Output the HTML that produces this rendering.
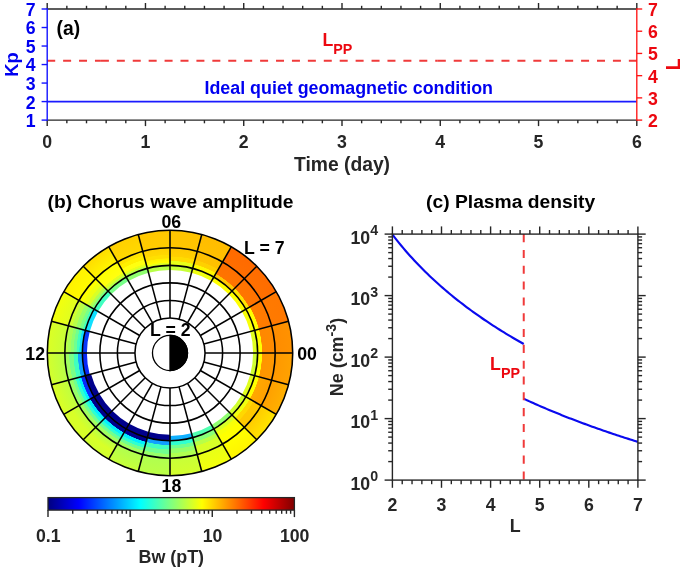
<!DOCTYPE html>
<html><head><meta charset="utf-8"><title>Figure</title>
<style>
html,body{margin:0;padding:0;background:#fff;}
svg{display:block;will-change:transform;}
text{font-family:"Liberation Sans",sans-serif;font-weight:bold;}
</style></head>
<body>
<svg width="685" height="570" viewBox="0 0 685 570">
<rect width="685" height="570" fill="#fff"/>
<g id="panel-a">
<line x1="47.20" y1="101.58" x2="636.80" y2="101.58" stroke="#1a1aff" stroke-width="1.7" />
<path d="M47.20,60.77 H100.90" stroke="#f03a3a" stroke-width="2" stroke-dasharray="8 7.92" fill="none"/>
<path d="M100.90,60.77 H437.80" stroke="#f03a3a" stroke-width="2" stroke-dasharray="8 7.92" fill="none"/>
<path d="M437.80,60.77 H636.80" stroke="#f03a3a" stroke-width="2" stroke-dasharray="8 7.92" fill="none"/>
<line x1="47.20" y1="9.00" x2="636.80" y2="9.00" stroke="#262626" stroke-width="1.4" />
<line x1="47.20" y1="120.10" x2="636.80" y2="120.10" stroke="#262626" stroke-width="1.4" />
<line x1="47.20" y1="9.00" x2="47.20" y2="3.00" stroke="#262626" stroke-width="1.4" />
<line x1="47.20" y1="120.10" x2="47.20" y2="126.10" stroke="#262626" stroke-width="1.4" />
<line x1="66.85" y1="9.00" x2="66.85" y2="5.80" stroke="#262626" stroke-width="1.4" />
<line x1="66.85" y1="120.10" x2="66.85" y2="123.30" stroke="#262626" stroke-width="1.4" />
<line x1="86.51" y1="9.00" x2="86.51" y2="5.80" stroke="#262626" stroke-width="1.4" />
<line x1="86.51" y1="120.10" x2="86.51" y2="123.30" stroke="#262626" stroke-width="1.4" />
<line x1="106.16" y1="9.00" x2="106.16" y2="5.80" stroke="#262626" stroke-width="1.4" />
<line x1="106.16" y1="120.10" x2="106.16" y2="123.30" stroke="#262626" stroke-width="1.4" />
<line x1="125.81" y1="9.00" x2="125.81" y2="5.80" stroke="#262626" stroke-width="1.4" />
<line x1="125.81" y1="120.10" x2="125.81" y2="123.30" stroke="#262626" stroke-width="1.4" />
<line x1="145.47" y1="9.00" x2="145.47" y2="3.00" stroke="#262626" stroke-width="1.4" />
<line x1="145.47" y1="120.10" x2="145.47" y2="126.10" stroke="#262626" stroke-width="1.4" />
<line x1="165.12" y1="9.00" x2="165.12" y2="5.80" stroke="#262626" stroke-width="1.4" />
<line x1="165.12" y1="120.10" x2="165.12" y2="123.30" stroke="#262626" stroke-width="1.4" />
<line x1="184.77" y1="9.00" x2="184.77" y2="5.80" stroke="#262626" stroke-width="1.4" />
<line x1="184.77" y1="120.10" x2="184.77" y2="123.30" stroke="#262626" stroke-width="1.4" />
<line x1="204.43" y1="9.00" x2="204.43" y2="5.80" stroke="#262626" stroke-width="1.4" />
<line x1="204.43" y1="120.10" x2="204.43" y2="123.30" stroke="#262626" stroke-width="1.4" />
<line x1="224.08" y1="9.00" x2="224.08" y2="5.80" stroke="#262626" stroke-width="1.4" />
<line x1="224.08" y1="120.10" x2="224.08" y2="123.30" stroke="#262626" stroke-width="1.4" />
<line x1="243.73" y1="9.00" x2="243.73" y2="3.00" stroke="#262626" stroke-width="1.4" />
<line x1="243.73" y1="120.10" x2="243.73" y2="126.10" stroke="#262626" stroke-width="1.4" />
<line x1="263.39" y1="9.00" x2="263.39" y2="5.80" stroke="#262626" stroke-width="1.4" />
<line x1="263.39" y1="120.10" x2="263.39" y2="123.30" stroke="#262626" stroke-width="1.4" />
<line x1="283.04" y1="9.00" x2="283.04" y2="5.80" stroke="#262626" stroke-width="1.4" />
<line x1="283.04" y1="120.10" x2="283.04" y2="123.30" stroke="#262626" stroke-width="1.4" />
<line x1="302.69" y1="9.00" x2="302.69" y2="5.80" stroke="#262626" stroke-width="1.4" />
<line x1="302.69" y1="120.10" x2="302.69" y2="123.30" stroke="#262626" stroke-width="1.4" />
<line x1="322.35" y1="9.00" x2="322.35" y2="5.80" stroke="#262626" stroke-width="1.4" />
<line x1="322.35" y1="120.10" x2="322.35" y2="123.30" stroke="#262626" stroke-width="1.4" />
<line x1="342.00" y1="9.00" x2="342.00" y2="3.00" stroke="#262626" stroke-width="1.4" />
<line x1="342.00" y1="120.10" x2="342.00" y2="126.10" stroke="#262626" stroke-width="1.4" />
<line x1="361.65" y1="9.00" x2="361.65" y2="5.80" stroke="#262626" stroke-width="1.4" />
<line x1="361.65" y1="120.10" x2="361.65" y2="123.30" stroke="#262626" stroke-width="1.4" />
<line x1="381.31" y1="9.00" x2="381.31" y2="5.80" stroke="#262626" stroke-width="1.4" />
<line x1="381.31" y1="120.10" x2="381.31" y2="123.30" stroke="#262626" stroke-width="1.4" />
<line x1="400.96" y1="9.00" x2="400.96" y2="5.80" stroke="#262626" stroke-width="1.4" />
<line x1="400.96" y1="120.10" x2="400.96" y2="123.30" stroke="#262626" stroke-width="1.4" />
<line x1="420.61" y1="9.00" x2="420.61" y2="5.80" stroke="#262626" stroke-width="1.4" />
<line x1="420.61" y1="120.10" x2="420.61" y2="123.30" stroke="#262626" stroke-width="1.4" />
<line x1="440.27" y1="9.00" x2="440.27" y2="3.00" stroke="#262626" stroke-width="1.4" />
<line x1="440.27" y1="120.10" x2="440.27" y2="126.10" stroke="#262626" stroke-width="1.4" />
<line x1="459.92" y1="9.00" x2="459.92" y2="5.80" stroke="#262626" stroke-width="1.4" />
<line x1="459.92" y1="120.10" x2="459.92" y2="123.30" stroke="#262626" stroke-width="1.4" />
<line x1="479.57" y1="9.00" x2="479.57" y2="5.80" stroke="#262626" stroke-width="1.4" />
<line x1="479.57" y1="120.10" x2="479.57" y2="123.30" stroke="#262626" stroke-width="1.4" />
<line x1="499.23" y1="9.00" x2="499.23" y2="5.80" stroke="#262626" stroke-width="1.4" />
<line x1="499.23" y1="120.10" x2="499.23" y2="123.30" stroke="#262626" stroke-width="1.4" />
<line x1="518.88" y1="9.00" x2="518.88" y2="5.80" stroke="#262626" stroke-width="1.4" />
<line x1="518.88" y1="120.10" x2="518.88" y2="123.30" stroke="#262626" stroke-width="1.4" />
<line x1="538.53" y1="9.00" x2="538.53" y2="3.00" stroke="#262626" stroke-width="1.4" />
<line x1="538.53" y1="120.10" x2="538.53" y2="126.10" stroke="#262626" stroke-width="1.4" />
<line x1="558.19" y1="9.00" x2="558.19" y2="5.80" stroke="#262626" stroke-width="1.4" />
<line x1="558.19" y1="120.10" x2="558.19" y2="123.30" stroke="#262626" stroke-width="1.4" />
<line x1="577.84" y1="9.00" x2="577.84" y2="5.80" stroke="#262626" stroke-width="1.4" />
<line x1="577.84" y1="120.10" x2="577.84" y2="123.30" stroke="#262626" stroke-width="1.4" />
<line x1="597.49" y1="9.00" x2="597.49" y2="5.80" stroke="#262626" stroke-width="1.4" />
<line x1="597.49" y1="120.10" x2="597.49" y2="123.30" stroke="#262626" stroke-width="1.4" />
<line x1="617.15" y1="9.00" x2="617.15" y2="5.80" stroke="#262626" stroke-width="1.4" />
<line x1="617.15" y1="120.10" x2="617.15" y2="123.30" stroke="#262626" stroke-width="1.4" />
<line x1="636.80" y1="9.00" x2="636.80" y2="3.00" stroke="#262626" stroke-width="1.4" />
<line x1="636.80" y1="120.10" x2="636.80" y2="126.10" stroke="#262626" stroke-width="1.4" />
<line x1="47.20" y1="8.35" x2="47.20" y2="120.75" stroke="#1414ff" stroke-width="1.4" />
<line x1="47.20" y1="120.10" x2="41.60" y2="120.10" stroke="#1414ff" stroke-width="1.4" />
<text x="35.50" y="127.04" font-size="17.7" fill="#0000f0" text-anchor="end" >1</text>
<line x1="47.20" y1="101.58" x2="41.60" y2="101.58" stroke="#1414ff" stroke-width="1.4" />
<text x="35.50" y="108.52" font-size="17.7" fill="#0000f0" text-anchor="end" >2</text>
<line x1="47.20" y1="83.07" x2="41.60" y2="83.07" stroke="#1414ff" stroke-width="1.4" />
<text x="35.50" y="90.00" font-size="17.7" fill="#0000f0" text-anchor="end" >3</text>
<line x1="47.20" y1="64.55" x2="41.60" y2="64.55" stroke="#1414ff" stroke-width="1.4" />
<text x="35.50" y="71.49" font-size="17.7" fill="#0000f0" text-anchor="end" >4</text>
<line x1="47.20" y1="46.03" x2="41.60" y2="46.03" stroke="#1414ff" stroke-width="1.4" />
<text x="35.50" y="52.97" font-size="17.7" fill="#0000f0" text-anchor="end" >5</text>
<line x1="47.20" y1="27.52" x2="41.60" y2="27.52" stroke="#1414ff" stroke-width="1.4" />
<text x="35.50" y="34.45" font-size="17.7" fill="#0000f0" text-anchor="end" >6</text>
<line x1="47.20" y1="9.00" x2="41.60" y2="9.00" stroke="#1414ff" stroke-width="1.4" />
<text x="35.50" y="15.94" font-size="17.7" fill="#0000f0" text-anchor="end" >7</text>
<line x1="636.80" y1="8.35" x2="636.80" y2="120.75" stroke="#ff1414" stroke-width="1.35" />
<line x1="636.80" y1="120.10" x2="642.20" y2="120.10" stroke="#ff1414" stroke-width="1.35" />
<text x="648.10" y="127.04" font-size="17.7" fill="#ec0810" text-anchor="start" >2</text>
<line x1="636.80" y1="97.88" x2="642.20" y2="97.88" stroke="#ff1414" stroke-width="1.35" />
<text x="648.10" y="104.82" font-size="17.7" fill="#ec0810" text-anchor="start" >3</text>
<line x1="636.80" y1="75.66" x2="642.20" y2="75.66" stroke="#ff1414" stroke-width="1.35" />
<text x="648.10" y="82.60" font-size="17.7" fill="#ec0810" text-anchor="start" >4</text>
<line x1="636.80" y1="53.44" x2="642.20" y2="53.44" stroke="#ff1414" stroke-width="1.35" />
<text x="648.10" y="60.38" font-size="17.7" fill="#ec0810" text-anchor="start" >5</text>
<line x1="636.80" y1="31.22" x2="642.20" y2="31.22" stroke="#ff1414" stroke-width="1.35" />
<text x="648.10" y="38.16" font-size="17.7" fill="#ec0810" text-anchor="start" >6</text>
<line x1="636.80" y1="9.00" x2="642.20" y2="9.00" stroke="#ff1414" stroke-width="1.35" />
<text x="648.10" y="15.94" font-size="17.7" fill="#ec0810" text-anchor="start" >7</text>
<text x="47.20" y="148.20" font-size="17.7" fill="#262626" text-anchor="middle" >0</text>
<text x="145.47" y="148.20" font-size="17.7" fill="#262626" text-anchor="middle" >1</text>
<text x="243.73" y="148.20" font-size="17.7" fill="#262626" text-anchor="middle" >2</text>
<text x="342.00" y="148.20" font-size="17.7" fill="#262626" text-anchor="middle" >3</text>
<text x="440.27" y="148.20" font-size="17.7" fill="#262626" text-anchor="middle" >4</text>
<text x="538.53" y="148.20" font-size="17.7" fill="#262626" text-anchor="middle" >5</text>
<text x="636.80" y="148.20" font-size="17.7" fill="#262626" text-anchor="middle" >6</text>
<text x="342.00" y="170.60" font-size="19.3" fill="#262626" text-anchor="middle" >Time (day)</text>
<text transform="translate(18.3,64.6) rotate(-90)" font-size="18.4" fill="#0000f0" text-anchor="middle" font-family="Liberation Sans, sans-serif" font-weight="bold">Kp</text>
<text transform="translate(680.1,64.4) rotate(-90)" font-size="19.4" fill="#ec0810" text-anchor="middle" font-family="Liberation Sans, sans-serif" font-weight="bold">L</text>
<text x="56.60" y="34.70" font-size="19.3" fill="#000" text-anchor="start" >(a)</text>
<text x="204.50" y="94.00" font-size="17.85" fill="#0000f0" text-anchor="start" >Ideal quiet geomagnetic condition</text>
<text x="322.5" y="45.7" font-size="17.7" fill="#ec0810" font-family="Liberation Sans, sans-serif" font-weight="bold">L<tspan dy="8.4" dx="0" font-size="14.3">PP</tspan></text>
</g>
<g id="panel-b">
<text x="170.50" y="208.10" font-size="19.25" fill="#000" text-anchor="middle" >(b) Chorus wave amplitude</text>
<defs>
<radialGradient id="g0" gradientUnits="userSpaceOnUse" cx="170.0" cy="353.0" r="122.71">
<stop offset="0.6571" stop-color="#e0ff20"/>
<stop offset="0.7126" stop-color="#e0ff20"/>
<stop offset="0.7160" stop-color="#ffff00"/>
<stop offset="0.7483" stop-color="#ffff00"/>
<stop offset="0.7517" stop-color="#ff8800"/>
<stop offset="0.8554" stop-color="#ff8a00"/>
<stop offset="0.8589" stop-color="#ff8c00"/>
<stop offset="1.0000" stop-color="#ff9200"/>
</radialGradient>
<radialGradient id="g1" gradientUnits="userSpaceOnUse" cx="170.0" cy="353.0" r="122.71">
<stop offset="0.6571" stop-color="#f8ff08"/>
<stop offset="0.7126" stop-color="#f8ff08"/>
<stop offset="0.7160" stop-color="#ffff00"/>
<stop offset="0.7483" stop-color="#ffff00"/>
<stop offset="0.7517" stop-color="#ff7c00"/>
<stop offset="0.8554" stop-color="#ff7a00"/>
<stop offset="0.8589" stop-color="#ff7a00"/>
<stop offset="1.0000" stop-color="#ff7800"/>
</radialGradient>
<radialGradient id="g2" gradientUnits="userSpaceOnUse" cx="170.0" cy="353.0" r="122.71">
<stop offset="0.6571" stop-color="#ffff00"/>
<stop offset="0.7126" stop-color="#ffff00"/>
<stop offset="0.7160" stop-color="#ffe400"/>
<stop offset="0.7440" stop-color="#ffe400"/>
<stop offset="0.7474" stop-color="#ff7600"/>
<stop offset="0.8554" stop-color="#ff7200"/>
<stop offset="0.8589" stop-color="#ff7000"/>
<stop offset="1.0000" stop-color="#ff6c00"/>
</radialGradient>
<radialGradient id="g3" gradientUnits="userSpaceOnUse" cx="170.0" cy="353.0" r="122.71">
<stop offset="0.6571" stop-color="#ffff00"/>
<stop offset="0.7126" stop-color="#ffff00"/>
<stop offset="0.7160" stop-color="#ffc800"/>
<stop offset="0.7440" stop-color="#ffc800"/>
<stop offset="0.7474" stop-color="#ff7400"/>
<stop offset="0.8554" stop-color="#ff7000"/>
<stop offset="0.8589" stop-color="#ff6e00"/>
<stop offset="1.0000" stop-color="#ff6a00"/>
</radialGradient>
<radialGradient id="g4" gradientUnits="userSpaceOnUse" cx="170.0" cy="353.0" r="122.71">
<stop offset="0.6571" stop-color="#f0ff10"/>
<stop offset="0.7126" stop-color="#f0ff10"/>
<stop offset="0.7160" stop-color="#fff800"/>
<stop offset="0.7483" stop-color="#fff800"/>
<stop offset="0.7517" stop-color="#ffd000"/>
<stop offset="0.7840" stop-color="#ffd000"/>
<stop offset="0.7874" stop-color="#ffc200"/>
<stop offset="0.8554" stop-color="#ffc000"/>
<stop offset="0.8589" stop-color="#ffc000"/>
<stop offset="1.0000" stop-color="#ffbc00"/>
</radialGradient>
<radialGradient id="g5" gradientUnits="userSpaceOnUse" cx="170.0" cy="353.0" r="122.71">
<stop offset="0.6571" stop-color="#c8ff38"/>
<stop offset="0.7126" stop-color="#c8ff38"/>
<stop offset="0.7160" stop-color="#e8ff18"/>
<stop offset="0.7483" stop-color="#e8ff18"/>
<stop offset="0.7517" stop-color="#ffdc00"/>
<stop offset="0.7840" stop-color="#ffdc00"/>
<stop offset="0.7874" stop-color="#ffd000"/>
<stop offset="0.8554" stop-color="#ffc800"/>
<stop offset="0.8589" stop-color="#ffc600"/>
<stop offset="1.0000" stop-color="#ffc400"/>
</radialGradient>
<radialGradient id="g6" gradientUnits="userSpaceOnUse" cx="170.0" cy="353.0" r="122.71">
<stop offset="0.6571" stop-color="#b8ff48"/>
<stop offset="0.7126" stop-color="#b8ff48"/>
<stop offset="0.7160" stop-color="#e0ff20"/>
<stop offset="0.7340" stop-color="#e0ff20"/>
<stop offset="0.7374" stop-color="#ffff00"/>
<stop offset="0.7697" stop-color="#fff000"/>
<stop offset="0.7731" stop-color="#ffe000"/>
<stop offset="0.7983" stop-color="#ffe000"/>
<stop offset="0.8017" stop-color="#ffd800"/>
<stop offset="0.8554" stop-color="#ffd000"/>
<stop offset="0.8589" stop-color="#ffcc00"/>
<stop offset="1.0000" stop-color="#ffc800"/>
</radialGradient>
<radialGradient id="g7" gradientUnits="userSpaceOnUse" cx="170.0" cy="353.0" r="122.71">
<stop offset="0.6571" stop-color="#90ff70"/>
<stop offset="0.7126" stop-color="#90ff70"/>
<stop offset="0.7160" stop-color="#c0ff40"/>
<stop offset="0.7340" stop-color="#c0ff40"/>
<stop offset="0.7374" stop-color="#e8ff18"/>
<stop offset="0.7511" stop-color="#e8ff18"/>
<stop offset="0.7546" stop-color="#ffff10"/>
<stop offset="0.7869" stop-color="#ffff10"/>
<stop offset="0.7903" stop-color="#fff000"/>
<stop offset="0.8197" stop-color="#fff000"/>
<stop offset="0.8231" stop-color="#ffe400"/>
<stop offset="0.8554" stop-color="#ffe400"/>
<stop offset="0.8589" stop-color="#ffd800"/>
<stop offset="1.0000" stop-color="#ffd000"/>
</radialGradient>
<radialGradient id="g8" gradientUnits="userSpaceOnUse" cx="170.0" cy="353.0" r="122.71">
<stop offset="0.6571" stop-color="#78ff88"/>
<stop offset="0.7126" stop-color="#78ff88"/>
<stop offset="0.7160" stop-color="#b8ff48"/>
<stop offset="0.7340" stop-color="#b8ff48"/>
<stop offset="0.7374" stop-color="#e0ff20"/>
<stop offset="0.7554" stop-color="#e0ff20"/>
<stop offset="0.7589" stop-color="#ffff10"/>
<stop offset="0.8554" stop-color="#ffff00"/>
<stop offset="0.8589" stop-color="#fff400"/>
<stop offset="1.0000" stop-color="#ffdc00"/>
</radialGradient>
<radialGradient id="g9" gradientUnits="userSpaceOnUse" cx="170.0" cy="353.0" r="122.71">
<stop offset="0.6571" stop-color="#40ffc0"/>
<stop offset="0.7126" stop-color="#40ffc0"/>
<stop offset="0.7160" stop-color="#80ff80"/>
<stop offset="0.7340" stop-color="#80ff80"/>
<stop offset="0.7374" stop-color="#b0ff50"/>
<stop offset="0.7554" stop-color="#b0ff50"/>
<stop offset="0.7589" stop-color="#d8ff28"/>
<stop offset="0.7840" stop-color="#d8ff28"/>
<stop offset="0.7874" stop-color="#f0ff10"/>
<stop offset="0.8197" stop-color="#f0ff10"/>
<stop offset="0.8231" stop-color="#ffff00"/>
<stop offset="0.8554" stop-color="#ffff00"/>
<stop offset="0.8589" stop-color="#fffa00"/>
<stop offset="1.0000" stop-color="#fff200"/>
</radialGradient>
<radialGradient id="g10" gradientUnits="userSpaceOnUse" cx="170.0" cy="353.0" r="122.71">
<stop offset="0.6571" stop-color="#10e0ff"/>
<stop offset="0.7126" stop-color="#10e0ff"/>
<stop offset="0.7160" stop-color="#40ffc0"/>
<stop offset="0.7340" stop-color="#40ffc0"/>
<stop offset="0.7374" stop-color="#78ff88"/>
<stop offset="0.7597" stop-color="#78ff88"/>
<stop offset="0.7631" stop-color="#98ff68"/>
<stop offset="0.7911" stop-color="#98ff68"/>
<stop offset="0.7946" stop-color="#b8ff48"/>
<stop offset="0.8240" stop-color="#b8ff48"/>
<stop offset="0.8274" stop-color="#d0ff30"/>
<stop offset="0.8554" stop-color="#d0ff30"/>
<stop offset="0.8589" stop-color="#e0ff20"/>
<stop offset="1.0000" stop-color="#f4ff0c"/>
</radialGradient>
<radialGradient id="g11" gradientUnits="userSpaceOnUse" cx="170.0" cy="353.0" r="122.71">
<stop offset="0.6571" stop-color="#0838f8"/>
<stop offset="0.7126" stop-color="#0838f8"/>
<stop offset="0.7160" stop-color="#10e0ff"/>
<stop offset="0.7369" stop-color="#10e0ff"/>
<stop offset="0.7403" stop-color="#40ffc0"/>
<stop offset="0.7597" stop-color="#40ffc0"/>
<stop offset="0.7631" stop-color="#70ff90"/>
<stop offset="0.7840" stop-color="#70ff90"/>
<stop offset="0.7874" stop-color="#90ff70"/>
<stop offset="0.8083" stop-color="#90ff70"/>
<stop offset="0.8117" stop-color="#a8ff58"/>
<stop offset="0.8311" stop-color="#a8ff58"/>
<stop offset="0.8346" stop-color="#b8ff48"/>
<stop offset="0.8554" stop-color="#b8ff48"/>
<stop offset="0.8589" stop-color="#c8ff38"/>
<stop offset="1.0000" stop-color="#dcff24"/>
</radialGradient>
<radialGradient id="g12" gradientUnits="userSpaceOnUse" cx="170.0" cy="353.0" r="122.71">
<stop offset="0.6571" stop-color="#0828f8"/>
<stop offset="0.7126" stop-color="#0828f8"/>
<stop offset="0.7160" stop-color="#10a0ff"/>
<stop offset="0.7483" stop-color="#10a0ff"/>
<stop offset="0.7517" stop-color="#40ffc0"/>
<stop offset="0.7840" stop-color="#40ffc0"/>
<stop offset="0.7874" stop-color="#78ff88"/>
<stop offset="0.8197" stop-color="#78ff88"/>
<stop offset="0.8231" stop-color="#a0ff60"/>
<stop offset="0.8554" stop-color="#a0ff60"/>
<stop offset="0.8589" stop-color="#b8ff48"/>
<stop offset="1.0000" stop-color="#d4ff2c"/>
</radialGradient>
<radialGradient id="g13" gradientUnits="userSpaceOnUse" cx="170.0" cy="353.0" r="122.71">
<stop offset="0.6571" stop-color="#00008c"/>
<stop offset="0.7126" stop-color="#00008c"/>
<stop offset="0.7160" stop-color="#0828f8"/>
<stop offset="0.7483" stop-color="#0828f8"/>
<stop offset="0.7517" stop-color="#00f0ff"/>
<stop offset="0.7697" stop-color="#00f0ff"/>
<stop offset="0.7731" stop-color="#30ffd0"/>
<stop offset="0.7940" stop-color="#30ffd0"/>
<stop offset="0.7974" stop-color="#70ff90"/>
<stop offset="0.8169" stop-color="#70ff90"/>
<stop offset="0.8203" stop-color="#98ff68"/>
<stop offset="0.8554" stop-color="#98ff68"/>
<stop offset="0.8589" stop-color="#c0ff40"/>
<stop offset="1.0000" stop-color="#dcff24"/>
</radialGradient>
<radialGradient id="g14" gradientUnits="userSpaceOnUse" cx="170.0" cy="353.0" r="122.71">
<stop offset="0.6571" stop-color="#00008c"/>
<stop offset="0.7483" stop-color="#00008c"/>
<stop offset="0.7517" stop-color="#00f0ff"/>
<stop offset="0.7726" stop-color="#00f0ff"/>
<stop offset="0.7760" stop-color="#30ffd0"/>
<stop offset="0.7954" stop-color="#30ffd0"/>
<stop offset="0.7989" stop-color="#70ff90"/>
<stop offset="0.8197" stop-color="#70ff90"/>
<stop offset="0.8231" stop-color="#a0ff60"/>
<stop offset="0.8554" stop-color="#a0ff60"/>
<stop offset="0.8589" stop-color="#c0ff40"/>
<stop offset="0.9269" stop-color="#d8ff28"/>
<stop offset="0.9303" stop-color="#d8ff28"/>
<stop offset="1.0000" stop-color="#d8ff28"/>
</radialGradient>
<radialGradient id="g15" gradientUnits="userSpaceOnUse" cx="170.0" cy="353.0" r="122.71">
<stop offset="0.6571" stop-color="#00008c"/>
<stop offset="0.7483" stop-color="#00008c"/>
<stop offset="0.7517" stop-color="#00f0ff"/>
<stop offset="0.7726" stop-color="#00f0ff"/>
<stop offset="0.7760" stop-color="#30ffd0"/>
<stop offset="0.7954" stop-color="#30ffd0"/>
<stop offset="0.7989" stop-color="#70ff90"/>
<stop offset="0.8197" stop-color="#70ff90"/>
<stop offset="0.8231" stop-color="#a0ff60"/>
<stop offset="0.8554" stop-color="#a0ff60"/>
<stop offset="0.8589" stop-color="#b8ff48"/>
<stop offset="0.9269" stop-color="#d8ff28"/>
<stop offset="0.9303" stop-color="#d8ff28"/>
<stop offset="1.0000" stop-color="#d0ff30"/>
</radialGradient>
<radialGradient id="g16" gradientUnits="userSpaceOnUse" cx="170.0" cy="353.0" r="122.71">
<stop offset="0.6571" stop-color="#00008c"/>
<stop offset="0.7483" stop-color="#00008c"/>
<stop offset="0.7517" stop-color="#00f0ff"/>
<stop offset="0.7740" stop-color="#00f0ff"/>
<stop offset="0.7774" stop-color="#30ffd0"/>
<stop offset="0.7983" stop-color="#30ffd0"/>
<stop offset="0.8017" stop-color="#70ff90"/>
<stop offset="0.8226" stop-color="#70ff90"/>
<stop offset="0.8260" stop-color="#a0ff60"/>
<stop offset="0.8554" stop-color="#a0ff60"/>
<stop offset="0.8589" stop-color="#b0ff50"/>
<stop offset="1.0000" stop-color="#c8ff38"/>
</radialGradient>
<radialGradient id="g17" gradientUnits="userSpaceOnUse" cx="170.0" cy="353.0" r="122.71">
<stop offset="0.6571" stop-color="#00008c"/>
<stop offset="0.7126" stop-color="#00008c"/>
<stop offset="0.7160" stop-color="#10a0ff"/>
<stop offset="0.7483" stop-color="#10a0ff"/>
<stop offset="0.7517" stop-color="#40ffc0"/>
<stop offset="0.7840" stop-color="#40ffc0"/>
<stop offset="0.7874" stop-color="#70ff90"/>
<stop offset="0.8197" stop-color="#70ff90"/>
<stop offset="0.8231" stop-color="#98ff68"/>
<stop offset="0.8554" stop-color="#98ff68"/>
<stop offset="0.8589" stop-color="#b0ff50"/>
<stop offset="1.0000" stop-color="#bcff44"/>
</radialGradient>
<radialGradient id="g18" gradientUnits="userSpaceOnUse" cx="170.0" cy="353.0" r="122.71">
<stop offset="0.6571" stop-color="#10b0ff"/>
<stop offset="0.7126" stop-color="#10b0ff"/>
<stop offset="0.7160" stop-color="#30ffd0"/>
<stop offset="0.7483" stop-color="#30ffd0"/>
<stop offset="0.7517" stop-color="#70ff90"/>
<stop offset="0.7769" stop-color="#70ff90"/>
<stop offset="0.7803" stop-color="#98ff68"/>
<stop offset="0.8126" stop-color="#98ff68"/>
<stop offset="0.8160" stop-color="#b0ff50"/>
<stop offset="0.8554" stop-color="#b0ff50"/>
<stop offset="0.8589" stop-color="#c8ff38"/>
<stop offset="1.0000" stop-color="#d4ff2c"/>
</radialGradient>
<radialGradient id="g19" gradientUnits="userSpaceOnUse" cx="170.0" cy="353.0" r="122.71">
<stop offset="0.6571" stop-color="#50ffb0"/>
<stop offset="0.7126" stop-color="#50ffb0"/>
<stop offset="0.7160" stop-color="#88ff78"/>
<stop offset="0.7511" stop-color="#88ff78"/>
<stop offset="0.7546" stop-color="#b8ff48"/>
<stop offset="0.7840" stop-color="#b8ff48"/>
<stop offset="0.7874" stop-color="#d8ff28"/>
<stop offset="0.8554" stop-color="#d8ff28"/>
<stop offset="0.8589" stop-color="#e8ff18"/>
<stop offset="1.0000" stop-color="#f4ff0c"/>
</radialGradient>
<radialGradient id="g20" gradientUnits="userSpaceOnUse" cx="170.0" cy="353.0" r="122.71">
<stop offset="0.6571" stop-color="#90ff70"/>
<stop offset="0.7126" stop-color="#90ff70"/>
<stop offset="0.7160" stop-color="#d8ff28"/>
<stop offset="0.7483" stop-color="#d8ff28"/>
<stop offset="0.7517" stop-color="#f8ff08"/>
<stop offset="0.7840" stop-color="#f8ff08"/>
<stop offset="0.7874" stop-color="#ffff00"/>
<stop offset="0.8554" stop-color="#ffff00"/>
<stop offset="0.8589" stop-color="#ffff00"/>
<stop offset="1.0000" stop-color="#fff400"/>
</radialGradient>
<radialGradient id="g21" gradientUnits="userSpaceOnUse" cx="170.0" cy="353.0" r="122.71">
<stop offset="0.6571" stop-color="#d0ff30"/>
<stop offset="0.7126" stop-color="#d0ff30"/>
<stop offset="0.7160" stop-color="#f0ff10"/>
<stop offset="0.7483" stop-color="#f0ff10"/>
<stop offset="0.7517" stop-color="#ffd800"/>
<stop offset="0.7840" stop-color="#ffd800"/>
<stop offset="0.7874" stop-color="#ffc800"/>
<stop offset="0.8554" stop-color="#ffc800"/>
<stop offset="0.8589" stop-color="#ffcc00"/>
<stop offset="1.0000" stop-color="#ffe400"/>
</radialGradient>
<radialGradient id="g22" gradientUnits="userSpaceOnUse" cx="170.0" cy="353.0" r="122.71">
<stop offset="0.6571" stop-color="#e0ff20"/>
<stop offset="0.7126" stop-color="#e0ff20"/>
<stop offset="0.7160" stop-color="#ffff00"/>
<stop offset="0.7483" stop-color="#ffff00"/>
<stop offset="0.7517" stop-color="#ffa800"/>
<stop offset="0.8554" stop-color="#ffa000"/>
<stop offset="0.8589" stop-color="#ffa000"/>
<stop offset="1.0000" stop-color="#ffb000"/>
</radialGradient>
<radialGradient id="g23" gradientUnits="userSpaceOnUse" cx="170.0" cy="353.0" r="122.71">
<stop offset="0.6571" stop-color="#d0ff30"/>
<stop offset="0.7126" stop-color="#d0ff30"/>
<stop offset="0.7160" stop-color="#ffff00"/>
<stop offset="0.7483" stop-color="#ffff00"/>
<stop offset="0.7517" stop-color="#ff9400"/>
<stop offset="0.8554" stop-color="#ff9800"/>
<stop offset="0.8589" stop-color="#ff9800"/>
<stop offset="1.0000" stop-color="#ffa200"/>
</radialGradient>
</defs>
<path d="M253.09,353.00 L292.71,353.00 A122.71,122.71 0 0 0 288.53,321.24 L250.26,331.49 A83.09,83.09 0 0 1 253.09,353.00 Z" fill="url(#g0)"/>
<path d="M250.26,331.49 L288.53,321.24 A122.71,122.71 0 0 0 276.27,291.64 L241.96,311.45 A83.09,83.09 0 0 1 250.26,331.49 Z" fill="url(#g1)"/>
<path d="M241.96,311.45 L276.27,291.64 A122.71,122.71 0 0 0 256.77,266.23 L228.76,294.24 A83.09,83.09 0 0 1 241.96,311.45 Z" fill="url(#g2)"/>
<path d="M228.76,294.24 L256.77,266.23 A122.71,122.71 0 0 0 231.36,246.73 L211.55,281.04 A83.09,83.09 0 0 1 228.76,294.24 Z" fill="url(#g3)"/>
<path d="M211.55,281.04 L231.36,246.73 A122.71,122.71 0 0 0 201.76,234.47 L191.51,272.74 A83.09,83.09 0 0 1 211.55,281.04 Z" fill="url(#g4)"/>
<path d="M191.51,272.74 L201.76,234.47 A122.71,122.71 0 0 0 170.00,230.29 L170.00,269.91 A83.09,83.09 0 0 1 191.51,272.74 Z" fill="url(#g5)"/>
<path d="M170.00,269.91 L170.00,230.29 A122.71,122.71 0 0 0 138.24,234.47 L148.49,272.74 A83.09,83.09 0 0 1 170.00,269.91 Z" fill="url(#g6)"/>
<path d="M148.49,272.74 L138.24,234.47 A122.71,122.71 0 0 0 108.65,246.73 L128.45,281.04 A83.09,83.09 0 0 1 148.49,272.74 Z" fill="url(#g7)"/>
<path d="M128.45,281.04 L108.65,246.73 A122.71,122.71 0 0 0 83.23,266.23 L111.24,294.24 A83.09,83.09 0 0 1 128.45,281.04 Z" fill="url(#g8)"/>
<path d="M111.24,294.24 L83.23,266.23 A122.71,122.71 0 0 0 63.73,291.64 L98.04,311.45 A83.09,83.09 0 0 1 111.24,294.24 Z" fill="url(#g9)"/>
<path d="M98.04,311.45 L63.73,291.64 A122.71,122.71 0 0 0 51.47,321.24 L89.74,331.49 A83.09,83.09 0 0 1 98.04,311.45 Z" fill="url(#g10)"/>
<path d="M89.74,331.49 L51.47,321.24 A122.71,122.71 0 0 0 47.29,353.00 L86.91,353.00 A83.09,83.09 0 0 1 89.74,331.49 Z" fill="url(#g11)"/>
<path d="M86.91,353.00 L47.29,353.00 A122.71,122.71 0 0 0 51.47,384.76 L89.74,374.51 A83.09,83.09 0 0 1 86.91,353.00 Z" fill="url(#g12)"/>
<path d="M91.09,374.14 L51.47,384.76 A122.71,122.71 0 0 0 63.73,414.36 L99.25,393.84 A81.69,81.69 0 0 1 91.09,374.14 Z" fill="url(#g13)"/>
<path d="M99.25,393.84 L63.73,414.36 A122.71,122.71 0 0 0 83.23,439.77 L112.24,410.76 A81.69,81.69 0 0 1 99.25,393.84 Z" fill="url(#g14)"/>
<path d="M112.24,410.76 L83.23,439.77 A122.71,122.71 0 0 0 108.64,459.27 L129.16,423.75 A81.69,81.69 0 0 1 112.24,410.76 Z" fill="url(#g15)"/>
<path d="M129.16,423.75 L108.64,459.27 A122.71,122.71 0 0 0 138.24,471.53 L148.86,431.91 A81.69,81.69 0 0 1 129.16,423.75 Z" fill="url(#g16)"/>
<path d="M148.86,431.91 L138.24,471.53 A122.71,122.71 0 0 0 170.00,475.71 L170.00,434.69 A81.69,81.69 0 0 1 148.86,431.91 Z" fill="url(#g17)"/>
<path d="M170.00,436.09 L170.00,475.71 A122.71,122.71 0 0 0 201.76,471.53 L191.51,433.26 A83.09,83.09 0 0 1 170.00,436.09 Z" fill="url(#g18)"/>
<path d="M191.51,433.26 L201.76,471.53 A122.71,122.71 0 0 0 231.36,459.27 L211.55,424.96 A83.09,83.09 0 0 1 191.51,433.26 Z" fill="url(#g19)"/>
<path d="M211.55,424.96 L231.36,459.27 A122.71,122.71 0 0 0 256.77,439.77 L228.76,411.76 A83.09,83.09 0 0 1 211.55,424.96 Z" fill="url(#g20)"/>
<path d="M228.76,411.76 L256.77,439.77 A122.71,122.71 0 0 0 276.27,414.36 L241.96,394.55 A83.09,83.09 0 0 1 228.76,411.76 Z" fill="url(#g21)"/>
<path d="M241.96,394.55 L276.27,414.36 A122.71,122.71 0 0 0 288.53,384.76 L250.26,374.51 A83.09,83.09 0 0 1 241.96,394.55 Z" fill="url(#g22)"/>
<path d="M250.26,374.51 L288.53,384.76 A122.71,122.71 0 0 0 292.71,353.00 L253.09,353.00 A83.09,83.09 0 0 1 250.26,374.51 Z" fill="url(#g23)"/>
<circle cx="170.0" cy="353.0" r="35.06" fill="none" stroke="#000" stroke-width="1.55"/>
<circle cx="170.0" cy="353.0" r="52.59" fill="none" stroke="#000" stroke-width="1.55"/>
<circle cx="170.0" cy="353.0" r="70.12" fill="none" stroke="#000" stroke-width="1.55"/>
<circle cx="170.0" cy="353.0" r="87.65" fill="none" stroke="#000" stroke-width="1.55"/>
<circle cx="170.0" cy="353.0" r="105.18" fill="none" stroke="#000" stroke-width="1.55"/>
<circle cx="170.0" cy="353.0" r="122.71" fill="none" stroke="#000" stroke-width="1.55"/>
<line x1="205.06" y1="353.00" x2="292.71" y2="353.00" stroke="#000" stroke-width="1.55" />
<line x1="203.87" y1="343.93" x2="288.53" y2="321.24" stroke="#000" stroke-width="1.55" />
<line x1="200.36" y1="335.47" x2="276.27" y2="291.64" stroke="#000" stroke-width="1.55" />
<line x1="194.79" y1="328.21" x2="256.77" y2="266.23" stroke="#000" stroke-width="1.55" />
<line x1="187.53" y1="322.64" x2="231.36" y2="246.73" stroke="#000" stroke-width="1.55" />
<line x1="179.07" y1="319.13" x2="201.76" y2="234.47" stroke="#000" stroke-width="1.55" />
<line x1="170.00" y1="317.94" x2="170.00" y2="230.29" stroke="#000" stroke-width="1.55" />
<line x1="160.93" y1="319.13" x2="138.24" y2="234.47" stroke="#000" stroke-width="1.55" />
<line x1="152.47" y1="322.64" x2="108.65" y2="246.73" stroke="#000" stroke-width="1.55" />
<line x1="145.21" y1="328.21" x2="83.23" y2="266.23" stroke="#000" stroke-width="1.55" />
<line x1="139.64" y1="335.47" x2="63.73" y2="291.64" stroke="#000" stroke-width="1.55" />
<line x1="136.13" y1="343.93" x2="51.47" y2="321.24" stroke="#000" stroke-width="1.55" />
<line x1="134.94" y1="353.00" x2="47.29" y2="353.00" stroke="#000" stroke-width="1.55" />
<line x1="136.13" y1="362.07" x2="51.47" y2="384.76" stroke="#000" stroke-width="1.55" />
<line x1="139.64" y1="370.53" x2="63.73" y2="414.36" stroke="#000" stroke-width="1.55" />
<line x1="145.21" y1="377.79" x2="83.23" y2="439.77" stroke="#000" stroke-width="1.55" />
<line x1="152.47" y1="383.36" x2="108.64" y2="459.27" stroke="#000" stroke-width="1.55" />
<line x1="160.93" y1="386.87" x2="138.24" y2="471.53" stroke="#000" stroke-width="1.55" />
<line x1="170.00" y1="388.06" x2="170.00" y2="475.71" stroke="#000" stroke-width="1.55" />
<line x1="179.07" y1="386.87" x2="201.76" y2="471.53" stroke="#000" stroke-width="1.55" />
<line x1="187.53" y1="383.36" x2="231.36" y2="459.27" stroke="#000" stroke-width="1.55" />
<line x1="194.79" y1="377.79" x2="256.77" y2="439.77" stroke="#000" stroke-width="1.55" />
<line x1="200.36" y1="370.53" x2="276.27" y2="414.36" stroke="#000" stroke-width="1.55" />
<line x1="203.87" y1="362.07" x2="288.53" y2="384.76" stroke="#000" stroke-width="1.55" />
<circle cx="170.0" cy="353.0" r="17.53" fill="#fff" stroke="#000" stroke-width="1.3"/>
<path d="M170.0,335.47 A17.53,17.53 0 0 1 170.0,370.53 Z" fill="#000" stroke="#000" stroke-width="1.3"/>
<text x="171.30" y="228.00" font-size="17.7" fill="#000" text-anchor="middle" >06</text>
<text x="171.40" y="491.80" font-size="17.7" fill="#000" text-anchor="middle" >18</text>
<text x="35.20" y="359.60" font-size="17.7" fill="#000" text-anchor="middle" >12</text>
<text x="307.00" y="359.60" font-size="17.7" fill="#000" text-anchor="middle" >00</text>
<text x="244.00" y="253.60" font-size="17.7" fill="#000" text-anchor="start" >L = 7</text>
<text x="150.00" y="335.60" font-size="17.7" fill="#000" text-anchor="start" >L = 2</text>
<defs><linearGradient id="jet" x1="0" x2="1" y1="0" y2="0">
<stop offset="0.0000" stop-color="#000080"/>
<stop offset="0.0156" stop-color="#00008f"/>
<stop offset="0.0312" stop-color="#00009f"/>
<stop offset="0.0469" stop-color="#0000af"/>
<stop offset="0.0625" stop-color="#0000bf"/>
<stop offset="0.0781" stop-color="#0000cf"/>
<stop offset="0.0938" stop-color="#0000df"/>
<stop offset="0.1094" stop-color="#0000ef"/>
<stop offset="0.1250" stop-color="#0000ff"/>
<stop offset="0.1406" stop-color="#0010ff"/>
<stop offset="0.1562" stop-color="#0020ff"/>
<stop offset="0.1719" stop-color="#0030ff"/>
<stop offset="0.1875" stop-color="#0040ff"/>
<stop offset="0.2031" stop-color="#0050ff"/>
<stop offset="0.2188" stop-color="#0060ff"/>
<stop offset="0.2344" stop-color="#0070ff"/>
<stop offset="0.2500" stop-color="#0080ff"/>
<stop offset="0.2656" stop-color="#008fff"/>
<stop offset="0.2812" stop-color="#009fff"/>
<stop offset="0.2969" stop-color="#00afff"/>
<stop offset="0.3125" stop-color="#00bfff"/>
<stop offset="0.3281" stop-color="#00cfff"/>
<stop offset="0.3438" stop-color="#00dfff"/>
<stop offset="0.3594" stop-color="#00efff"/>
<stop offset="0.3750" stop-color="#00ffff"/>
<stop offset="0.3906" stop-color="#10ffef"/>
<stop offset="0.4062" stop-color="#20ffdf"/>
<stop offset="0.4219" stop-color="#30ffcf"/>
<stop offset="0.4375" stop-color="#40ffbf"/>
<stop offset="0.4531" stop-color="#50ffaf"/>
<stop offset="0.4688" stop-color="#60ff9f"/>
<stop offset="0.4844" stop-color="#70ff8f"/>
<stop offset="0.5000" stop-color="#80ff80"/>
<stop offset="0.5156" stop-color="#8fff70"/>
<stop offset="0.5312" stop-color="#9fff60"/>
<stop offset="0.5469" stop-color="#afff50"/>
<stop offset="0.5625" stop-color="#bfff40"/>
<stop offset="0.5781" stop-color="#cfff30"/>
<stop offset="0.5938" stop-color="#dfff20"/>
<stop offset="0.6094" stop-color="#efff10"/>
<stop offset="0.6250" stop-color="#ffff00"/>
<stop offset="0.6406" stop-color="#ffef00"/>
<stop offset="0.6562" stop-color="#ffdf00"/>
<stop offset="0.6719" stop-color="#ffcf00"/>
<stop offset="0.6875" stop-color="#ffbf00"/>
<stop offset="0.7031" stop-color="#ffaf00"/>
<stop offset="0.7188" stop-color="#ff9f00"/>
<stop offset="0.7344" stop-color="#ff8f00"/>
<stop offset="0.7500" stop-color="#ff8000"/>
<stop offset="0.7656" stop-color="#ff7000"/>
<stop offset="0.7812" stop-color="#ff6000"/>
<stop offset="0.7969" stop-color="#ff5000"/>
<stop offset="0.8125" stop-color="#ff4000"/>
<stop offset="0.8281" stop-color="#ff3000"/>
<stop offset="0.8438" stop-color="#ff2000"/>
<stop offset="0.8594" stop-color="#ff1000"/>
<stop offset="0.8750" stop-color="#ff0000"/>
<stop offset="0.8906" stop-color="#ef0000"/>
<stop offset="0.9062" stop-color="#df0000"/>
<stop offset="0.9219" stop-color="#cf0000"/>
<stop offset="0.9375" stop-color="#bf0000"/>
<stop offset="0.9531" stop-color="#af0000"/>
<stop offset="0.9688" stop-color="#9f0000"/>
<stop offset="0.9844" stop-color="#8f0000"/>
<stop offset="1.0000" stop-color="#800000"/>
</linearGradient></defs>
<rect x="48.0" y="497.6" width="246.40" height="12.50" fill="url(#jet)" stroke="#262626" stroke-width="1.3"/>
<line x1="48.00" y1="510.10" x2="48.00" y2="517.10" stroke="#262626" stroke-width="1.4" />
<line x1="72.72" y1="510.10" x2="72.72" y2="513.80" stroke="#262626" stroke-width="1.4" />
<line x1="87.19" y1="510.10" x2="87.19" y2="513.80" stroke="#262626" stroke-width="1.4" />
<line x1="97.45" y1="510.10" x2="97.45" y2="513.80" stroke="#262626" stroke-width="1.4" />
<line x1="105.41" y1="510.10" x2="105.41" y2="513.80" stroke="#262626" stroke-width="1.4" />
<line x1="111.91" y1="510.10" x2="111.91" y2="513.80" stroke="#262626" stroke-width="1.4" />
<line x1="117.41" y1="510.10" x2="117.41" y2="513.80" stroke="#262626" stroke-width="1.4" />
<line x1="122.17" y1="510.10" x2="122.17" y2="513.80" stroke="#262626" stroke-width="1.4" />
<line x1="126.38" y1="510.10" x2="126.38" y2="513.80" stroke="#262626" stroke-width="1.4" />
<line x1="130.13" y1="510.10" x2="130.13" y2="517.10" stroke="#262626" stroke-width="1.4" />
<line x1="154.86" y1="510.10" x2="154.86" y2="513.80" stroke="#262626" stroke-width="1.4" />
<line x1="169.32" y1="510.10" x2="169.32" y2="513.80" stroke="#262626" stroke-width="1.4" />
<line x1="179.58" y1="510.10" x2="179.58" y2="513.80" stroke="#262626" stroke-width="1.4" />
<line x1="187.54" y1="510.10" x2="187.54" y2="513.80" stroke="#262626" stroke-width="1.4" />
<line x1="194.05" y1="510.10" x2="194.05" y2="513.80" stroke="#262626" stroke-width="1.4" />
<line x1="199.54" y1="510.10" x2="199.54" y2="513.80" stroke="#262626" stroke-width="1.4" />
<line x1="204.31" y1="510.10" x2="204.31" y2="513.80" stroke="#262626" stroke-width="1.4" />
<line x1="208.51" y1="510.10" x2="208.51" y2="513.80" stroke="#262626" stroke-width="1.4" />
<line x1="212.27" y1="510.10" x2="212.27" y2="517.10" stroke="#262626" stroke-width="1.4" />
<line x1="236.99" y1="510.10" x2="236.99" y2="513.80" stroke="#262626" stroke-width="1.4" />
<line x1="251.45" y1="510.10" x2="251.45" y2="513.80" stroke="#262626" stroke-width="1.4" />
<line x1="261.72" y1="510.10" x2="261.72" y2="513.80" stroke="#262626" stroke-width="1.4" />
<line x1="269.68" y1="510.10" x2="269.68" y2="513.80" stroke="#262626" stroke-width="1.4" />
<line x1="276.18" y1="510.10" x2="276.18" y2="513.80" stroke="#262626" stroke-width="1.4" />
<line x1="281.68" y1="510.10" x2="281.68" y2="513.80" stroke="#262626" stroke-width="1.4" />
<line x1="286.44" y1="510.10" x2="286.44" y2="513.80" stroke="#262626" stroke-width="1.4" />
<line x1="290.64" y1="510.10" x2="290.64" y2="513.80" stroke="#262626" stroke-width="1.4" />
<line x1="294.40" y1="510.10" x2="294.40" y2="517.10" stroke="#262626" stroke-width="1.4" />
<text x="48.20" y="542.20" font-size="17.7" fill="#262626" text-anchor="middle" >0.1</text>
<text x="130.43" y="542.20" font-size="17.7" fill="#262626" text-anchor="middle" >1</text>
<text x="212.57" y="542.20" font-size="17.7" fill="#262626" text-anchor="middle" >10</text>
<text x="294.70" y="542.20" font-size="17.7" fill="#262626" text-anchor="middle" >100</text>
<text x="171.30" y="563.20" font-size="17.9" fill="#262626" text-anchor="middle" >Bw (pT)</text>
</g>
<g id="panel-c">
<text x="510.60" y="208.10" font-size="19.25" fill="#000" text-anchor="middle" >(c) Plasma density</text>
<path d="M392.40,234.50 L394.59,237.34 L396.78,240.12 L398.97,242.85 L401.16,245.52 L403.35,248.13 L405.53,250.69 L407.72,253.20 L409.91,255.67 L412.10,258.09 L414.29,260.46 L416.48,262.79 L418.67,265.08 L420.86,267.33 L423.05,269.54 L425.24,271.71 L427.42,273.85 L429.61,275.95 L431.80,278.02 L433.99,280.06 L436.18,282.06 L438.37,284.03 L440.56,285.98 L442.75,287.89 L444.94,289.78 L447.13,291.64 L449.32,293.47 L451.50,295.28 L453.69,297.06 L455.88,298.82 L458.07,300.56 L460.26,302.27 L462.45,303.96 L464.64,305.63 L466.83,307.27 L469.02,308.90 L471.21,310.50 L473.39,312.09 L475.58,313.66 L477.77,315.20 L479.96,316.73 L482.15,318.24 L484.34,319.74 L486.53,321.21 L488.72,322.67 L490.91,324.12 L493.10,325.55 L495.28,326.96 L497.47,328.35 L499.66,329.74 L501.85,331.10 L504.04,332.46 L506.23,333.80 L508.42,335.12 L510.61,336.43 L512.80,337.73 L514.99,339.02 L517.18,340.29 L519.36,341.55 L521.55,342.80 L523.74,344.03" fill="none" stroke="#0a0aee" stroke-width="2.15" stroke-linejoin="round"/>
<path d="M523.74,398.75 L525.65,399.63 L527.55,400.51 L529.45,401.37 L531.35,402.23 L533.26,403.09 L535.16,403.93 L537.06,404.77 L538.96,405.61 L540.87,406.44 L542.77,407.26 L544.67,408.07 L546.57,408.88 L548.48,409.68 L550.38,410.48 L552.28,411.27 L554.18,412.05 L556.09,412.83 L557.99,413.61 L559.89,414.37 L561.79,415.14 L563.70,415.89 L565.60,416.64 L567.50,417.39 L569.41,418.13 L571.31,418.87 L573.21,419.60 L575.11,420.33 L577.02,421.05 L578.92,421.76 L580.82,422.47 L582.72,423.18 L584.63,423.88 L586.53,424.58 L588.43,425.27 L590.33,425.96 L592.24,426.65 L594.14,427.33 L596.04,428.00 L597.94,428.67 L599.85,429.34 L601.75,430.00 L603.65,430.66 L605.56,431.32 L607.46,431.97 L609.36,432.62 L611.26,433.26 L613.17,433.90 L615.07,434.53 L616.97,435.16 L618.87,435.79 L620.78,436.42 L622.68,437.04 L624.58,437.65 L626.48,438.27 L628.39,438.88 L630.29,439.48 L632.19,440.09 L634.09,440.69 L636.00,441.28 L637.90,441.88" fill="none" stroke="#0a0aee" stroke-width="2.15" stroke-linejoin="round"/>
<path d="M523.74,234.10 V480.10" stroke="#f03a3a" stroke-width="2" stroke-dasharray="8.05 7.77" fill="none"/>
<rect x="392.4" y="234.1" width="245.50" height="246.00" fill="none" stroke="#262626" stroke-width="1.4"/>
<line x1="392.40" y1="234.10" x2="392.40" y2="226.40" stroke="#262626" stroke-width="1.4" />
<line x1="392.40" y1="480.10" x2="392.40" y2="487.80" stroke="#262626" stroke-width="1.4" />
<line x1="402.22" y1="234.10" x2="402.22" y2="230.00" stroke="#262626" stroke-width="1.4" />
<line x1="402.22" y1="480.10" x2="402.22" y2="484.20" stroke="#262626" stroke-width="1.4" />
<line x1="412.04" y1="234.10" x2="412.04" y2="230.00" stroke="#262626" stroke-width="1.4" />
<line x1="412.04" y1="480.10" x2="412.04" y2="484.20" stroke="#262626" stroke-width="1.4" />
<line x1="421.86" y1="234.10" x2="421.86" y2="230.00" stroke="#262626" stroke-width="1.4" />
<line x1="421.86" y1="480.10" x2="421.86" y2="484.20" stroke="#262626" stroke-width="1.4" />
<line x1="431.68" y1="234.10" x2="431.68" y2="230.00" stroke="#262626" stroke-width="1.4" />
<line x1="431.68" y1="480.10" x2="431.68" y2="484.20" stroke="#262626" stroke-width="1.4" />
<line x1="441.50" y1="234.10" x2="441.50" y2="226.40" stroke="#262626" stroke-width="1.4" />
<line x1="441.50" y1="480.10" x2="441.50" y2="487.80" stroke="#262626" stroke-width="1.4" />
<line x1="451.32" y1="234.10" x2="451.32" y2="230.00" stroke="#262626" stroke-width="1.4" />
<line x1="451.32" y1="480.10" x2="451.32" y2="484.20" stroke="#262626" stroke-width="1.4" />
<line x1="461.14" y1="234.10" x2="461.14" y2="230.00" stroke="#262626" stroke-width="1.4" />
<line x1="461.14" y1="480.10" x2="461.14" y2="484.20" stroke="#262626" stroke-width="1.4" />
<line x1="470.96" y1="234.10" x2="470.96" y2="230.00" stroke="#262626" stroke-width="1.4" />
<line x1="470.96" y1="480.10" x2="470.96" y2="484.20" stroke="#262626" stroke-width="1.4" />
<line x1="480.78" y1="234.10" x2="480.78" y2="230.00" stroke="#262626" stroke-width="1.4" />
<line x1="480.78" y1="480.10" x2="480.78" y2="484.20" stroke="#262626" stroke-width="1.4" />
<line x1="490.60" y1="234.10" x2="490.60" y2="226.40" stroke="#262626" stroke-width="1.4" />
<line x1="490.60" y1="480.10" x2="490.60" y2="487.80" stroke="#262626" stroke-width="1.4" />
<line x1="500.42" y1="234.10" x2="500.42" y2="230.00" stroke="#262626" stroke-width="1.4" />
<line x1="500.42" y1="480.10" x2="500.42" y2="484.20" stroke="#262626" stroke-width="1.4" />
<line x1="510.24" y1="234.10" x2="510.24" y2="230.00" stroke="#262626" stroke-width="1.4" />
<line x1="510.24" y1="480.10" x2="510.24" y2="484.20" stroke="#262626" stroke-width="1.4" />
<line x1="520.06" y1="234.10" x2="520.06" y2="230.00" stroke="#262626" stroke-width="1.4" />
<line x1="520.06" y1="480.10" x2="520.06" y2="484.20" stroke="#262626" stroke-width="1.4" />
<line x1="529.88" y1="234.10" x2="529.88" y2="230.00" stroke="#262626" stroke-width="1.4" />
<line x1="529.88" y1="480.10" x2="529.88" y2="484.20" stroke="#262626" stroke-width="1.4" />
<line x1="539.70" y1="234.10" x2="539.70" y2="226.40" stroke="#262626" stroke-width="1.4" />
<line x1="539.70" y1="480.10" x2="539.70" y2="487.80" stroke="#262626" stroke-width="1.4" />
<line x1="549.52" y1="234.10" x2="549.52" y2="230.00" stroke="#262626" stroke-width="1.4" />
<line x1="549.52" y1="480.10" x2="549.52" y2="484.20" stroke="#262626" stroke-width="1.4" />
<line x1="559.34" y1="234.10" x2="559.34" y2="230.00" stroke="#262626" stroke-width="1.4" />
<line x1="559.34" y1="480.10" x2="559.34" y2="484.20" stroke="#262626" stroke-width="1.4" />
<line x1="569.16" y1="234.10" x2="569.16" y2="230.00" stroke="#262626" stroke-width="1.4" />
<line x1="569.16" y1="480.10" x2="569.16" y2="484.20" stroke="#262626" stroke-width="1.4" />
<line x1="578.98" y1="234.10" x2="578.98" y2="230.00" stroke="#262626" stroke-width="1.4" />
<line x1="578.98" y1="480.10" x2="578.98" y2="484.20" stroke="#262626" stroke-width="1.4" />
<line x1="588.80" y1="234.10" x2="588.80" y2="226.40" stroke="#262626" stroke-width="1.4" />
<line x1="588.80" y1="480.10" x2="588.80" y2="487.80" stroke="#262626" stroke-width="1.4" />
<line x1="598.62" y1="234.10" x2="598.62" y2="230.00" stroke="#262626" stroke-width="1.4" />
<line x1="598.62" y1="480.10" x2="598.62" y2="484.20" stroke="#262626" stroke-width="1.4" />
<line x1="608.44" y1="234.10" x2="608.44" y2="230.00" stroke="#262626" stroke-width="1.4" />
<line x1="608.44" y1="480.10" x2="608.44" y2="484.20" stroke="#262626" stroke-width="1.4" />
<line x1="618.26" y1="234.10" x2="618.26" y2="230.00" stroke="#262626" stroke-width="1.4" />
<line x1="618.26" y1="480.10" x2="618.26" y2="484.20" stroke="#262626" stroke-width="1.4" />
<line x1="628.08" y1="234.10" x2="628.08" y2="230.00" stroke="#262626" stroke-width="1.4" />
<line x1="628.08" y1="480.10" x2="628.08" y2="484.20" stroke="#262626" stroke-width="1.4" />
<line x1="637.90" y1="234.10" x2="637.90" y2="226.40" stroke="#262626" stroke-width="1.4" />
<line x1="637.90" y1="480.10" x2="637.90" y2="487.80" stroke="#262626" stroke-width="1.4" />
<line x1="392.40" y1="480.10" x2="384.60" y2="480.10" stroke="#262626" stroke-width="1.4" />
<line x1="637.90" y1="480.10" x2="645.70" y2="480.10" stroke="#262626" stroke-width="1.4" />
<line x1="392.40" y1="461.59" x2="388.20" y2="461.59" stroke="#262626" stroke-width="1.4" />
<line x1="637.90" y1="461.59" x2="642.10" y2="461.59" stroke="#262626" stroke-width="1.4" />
<line x1="392.40" y1="450.76" x2="388.20" y2="450.76" stroke="#262626" stroke-width="1.4" />
<line x1="637.90" y1="450.76" x2="642.10" y2="450.76" stroke="#262626" stroke-width="1.4" />
<line x1="392.40" y1="443.07" x2="388.20" y2="443.07" stroke="#262626" stroke-width="1.4" />
<line x1="637.90" y1="443.07" x2="642.10" y2="443.07" stroke="#262626" stroke-width="1.4" />
<line x1="392.40" y1="437.11" x2="388.20" y2="437.11" stroke="#262626" stroke-width="1.4" />
<line x1="637.90" y1="437.11" x2="642.10" y2="437.11" stroke="#262626" stroke-width="1.4" />
<line x1="392.40" y1="432.24" x2="388.20" y2="432.24" stroke="#262626" stroke-width="1.4" />
<line x1="637.90" y1="432.24" x2="642.10" y2="432.24" stroke="#262626" stroke-width="1.4" />
<line x1="392.40" y1="428.13" x2="388.20" y2="428.13" stroke="#262626" stroke-width="1.4" />
<line x1="637.90" y1="428.13" x2="642.10" y2="428.13" stroke="#262626" stroke-width="1.4" />
<line x1="392.40" y1="424.56" x2="388.20" y2="424.56" stroke="#262626" stroke-width="1.4" />
<line x1="637.90" y1="424.56" x2="642.10" y2="424.56" stroke="#262626" stroke-width="1.4" />
<line x1="392.40" y1="421.41" x2="388.20" y2="421.41" stroke="#262626" stroke-width="1.4" />
<line x1="637.90" y1="421.41" x2="642.10" y2="421.41" stroke="#262626" stroke-width="1.4" />
<line x1="392.40" y1="418.60" x2="384.60" y2="418.60" stroke="#262626" stroke-width="1.4" />
<line x1="637.90" y1="418.60" x2="645.70" y2="418.60" stroke="#262626" stroke-width="1.4" />
<line x1="392.40" y1="400.09" x2="388.20" y2="400.09" stroke="#262626" stroke-width="1.4" />
<line x1="637.90" y1="400.09" x2="642.10" y2="400.09" stroke="#262626" stroke-width="1.4" />
<line x1="392.40" y1="389.26" x2="388.20" y2="389.26" stroke="#262626" stroke-width="1.4" />
<line x1="637.90" y1="389.26" x2="642.10" y2="389.26" stroke="#262626" stroke-width="1.4" />
<line x1="392.40" y1="381.57" x2="388.20" y2="381.57" stroke="#262626" stroke-width="1.4" />
<line x1="637.90" y1="381.57" x2="642.10" y2="381.57" stroke="#262626" stroke-width="1.4" />
<line x1="392.40" y1="375.61" x2="388.20" y2="375.61" stroke="#262626" stroke-width="1.4" />
<line x1="637.90" y1="375.61" x2="642.10" y2="375.61" stroke="#262626" stroke-width="1.4" />
<line x1="392.40" y1="370.74" x2="388.20" y2="370.74" stroke="#262626" stroke-width="1.4" />
<line x1="637.90" y1="370.74" x2="642.10" y2="370.74" stroke="#262626" stroke-width="1.4" />
<line x1="392.40" y1="366.63" x2="388.20" y2="366.63" stroke="#262626" stroke-width="1.4" />
<line x1="637.90" y1="366.63" x2="642.10" y2="366.63" stroke="#262626" stroke-width="1.4" />
<line x1="392.40" y1="363.06" x2="388.20" y2="363.06" stroke="#262626" stroke-width="1.4" />
<line x1="637.90" y1="363.06" x2="642.10" y2="363.06" stroke="#262626" stroke-width="1.4" />
<line x1="392.40" y1="359.91" x2="388.20" y2="359.91" stroke="#262626" stroke-width="1.4" />
<line x1="637.90" y1="359.91" x2="642.10" y2="359.91" stroke="#262626" stroke-width="1.4" />
<line x1="392.40" y1="357.10" x2="384.60" y2="357.10" stroke="#262626" stroke-width="1.4" />
<line x1="637.90" y1="357.10" x2="645.70" y2="357.10" stroke="#262626" stroke-width="1.4" />
<line x1="392.40" y1="338.59" x2="388.20" y2="338.59" stroke="#262626" stroke-width="1.4" />
<line x1="637.90" y1="338.59" x2="642.10" y2="338.59" stroke="#262626" stroke-width="1.4" />
<line x1="392.40" y1="327.76" x2="388.20" y2="327.76" stroke="#262626" stroke-width="1.4" />
<line x1="637.90" y1="327.76" x2="642.10" y2="327.76" stroke="#262626" stroke-width="1.4" />
<line x1="392.40" y1="320.07" x2="388.20" y2="320.07" stroke="#262626" stroke-width="1.4" />
<line x1="637.90" y1="320.07" x2="642.10" y2="320.07" stroke="#262626" stroke-width="1.4" />
<line x1="392.40" y1="314.11" x2="388.20" y2="314.11" stroke="#262626" stroke-width="1.4" />
<line x1="637.90" y1="314.11" x2="642.10" y2="314.11" stroke="#262626" stroke-width="1.4" />
<line x1="392.40" y1="309.24" x2="388.20" y2="309.24" stroke="#262626" stroke-width="1.4" />
<line x1="637.90" y1="309.24" x2="642.10" y2="309.24" stroke="#262626" stroke-width="1.4" />
<line x1="392.40" y1="305.13" x2="388.20" y2="305.13" stroke="#262626" stroke-width="1.4" />
<line x1="637.90" y1="305.13" x2="642.10" y2="305.13" stroke="#262626" stroke-width="1.4" />
<line x1="392.40" y1="301.56" x2="388.20" y2="301.56" stroke="#262626" stroke-width="1.4" />
<line x1="637.90" y1="301.56" x2="642.10" y2="301.56" stroke="#262626" stroke-width="1.4" />
<line x1="392.40" y1="298.41" x2="388.20" y2="298.41" stroke="#262626" stroke-width="1.4" />
<line x1="637.90" y1="298.41" x2="642.10" y2="298.41" stroke="#262626" stroke-width="1.4" />
<line x1="392.40" y1="295.60" x2="384.60" y2="295.60" stroke="#262626" stroke-width="1.4" />
<line x1="637.90" y1="295.60" x2="645.70" y2="295.60" stroke="#262626" stroke-width="1.4" />
<line x1="392.40" y1="277.09" x2="388.20" y2="277.09" stroke="#262626" stroke-width="1.4" />
<line x1="637.90" y1="277.09" x2="642.10" y2="277.09" stroke="#262626" stroke-width="1.4" />
<line x1="392.40" y1="266.26" x2="388.20" y2="266.26" stroke="#262626" stroke-width="1.4" />
<line x1="637.90" y1="266.26" x2="642.10" y2="266.26" stroke="#262626" stroke-width="1.4" />
<line x1="392.40" y1="258.57" x2="388.20" y2="258.57" stroke="#262626" stroke-width="1.4" />
<line x1="637.90" y1="258.57" x2="642.10" y2="258.57" stroke="#262626" stroke-width="1.4" />
<line x1="392.40" y1="252.61" x2="388.20" y2="252.61" stroke="#262626" stroke-width="1.4" />
<line x1="637.90" y1="252.61" x2="642.10" y2="252.61" stroke="#262626" stroke-width="1.4" />
<line x1="392.40" y1="247.74" x2="388.20" y2="247.74" stroke="#262626" stroke-width="1.4" />
<line x1="637.90" y1="247.74" x2="642.10" y2="247.74" stroke="#262626" stroke-width="1.4" />
<line x1="392.40" y1="243.63" x2="388.20" y2="243.63" stroke="#262626" stroke-width="1.4" />
<line x1="637.90" y1="243.63" x2="642.10" y2="243.63" stroke="#262626" stroke-width="1.4" />
<line x1="392.40" y1="240.06" x2="388.20" y2="240.06" stroke="#262626" stroke-width="1.4" />
<line x1="637.90" y1="240.06" x2="642.10" y2="240.06" stroke="#262626" stroke-width="1.4" />
<line x1="392.40" y1="236.91" x2="388.20" y2="236.91" stroke="#262626" stroke-width="1.4" />
<line x1="637.90" y1="236.91" x2="642.10" y2="236.91" stroke="#262626" stroke-width="1.4" />
<line x1="392.40" y1="234.10" x2="384.60" y2="234.10" stroke="#262626" stroke-width="1.4" />
<line x1="637.90" y1="234.10" x2="645.70" y2="234.10" stroke="#262626" stroke-width="1.4" />
<text x="392.40" y="510.60" font-size="17.7" fill="#262626" text-anchor="middle" >2</text>
<text x="441.50" y="510.60" font-size="17.7" fill="#262626" text-anchor="middle" >3</text>
<text x="490.60" y="510.60" font-size="17.7" fill="#262626" text-anchor="middle" >4</text>
<text x="539.70" y="510.60" font-size="17.7" fill="#262626" text-anchor="middle" >5</text>
<text x="588.80" y="510.60" font-size="17.7" fill="#262626" text-anchor="middle" >6</text>
<text x="637.90" y="510.60" font-size="17.7" fill="#262626" text-anchor="middle" >7</text>
<text x="515.20" y="531.80" font-size="17.9" fill="#262626" text-anchor="middle" >L</text>
<text x="350.4" y="489.50" font-size="17.7" fill="#262626" font-family="Liberation Sans, sans-serif" font-weight="bold">10<tspan dy="-8.3" dx="0.1" font-size="14.2">0</tspan></text>
<text x="350.4" y="428.00" font-size="17.7" fill="#262626" font-family="Liberation Sans, sans-serif" font-weight="bold">10<tspan dy="-8.3" dx="0.1" font-size="14.2">1</tspan></text>
<text x="350.4" y="366.50" font-size="17.7" fill="#262626" font-family="Liberation Sans, sans-serif" font-weight="bold">10<tspan dy="-8.3" dx="0.1" font-size="14.2">2</tspan></text>
<text x="350.4" y="305.00" font-size="17.7" fill="#262626" font-family="Liberation Sans, sans-serif" font-weight="bold">10<tspan dy="-8.3" dx="0.1" font-size="14.2">3</tspan></text>
<text x="350.4" y="243.50" font-size="17.7" fill="#262626" font-family="Liberation Sans, sans-serif" font-weight="bold">10<tspan dy="-8.3" dx="0.1" font-size="14.2">4</tspan></text>
<text transform="translate(342.7,357.0) rotate(-90)" font-size="17.9" fill="#262626" text-anchor="middle" font-family="Liberation Sans, sans-serif" font-weight="bold">Ne (cm<tspan dy="-7.0" font-size="14.2">-3</tspan><tspan dy="7.0">)</tspan></text>
<text x="490.1" y="369.5" font-size="17.7" fill="#ec0810" font-family="Liberation Sans, sans-serif" font-weight="bold">L<tspan dy="8.6" dx="0" font-size="14.3">PP</tspan></text>
</g>
</svg>
</body></html>
